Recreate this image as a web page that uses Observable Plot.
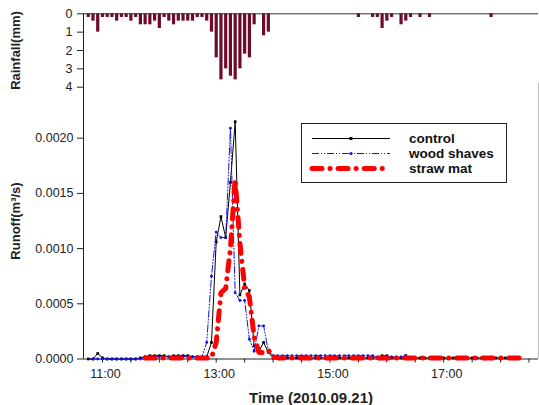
<!DOCTYPE html>
<html><head><meta charset="utf-8">
<script src="https://cdn.jsdelivr.net/npm/d3@7"></script>
<script src="https://cdn.jsdelivr.net/npm/@observablehq/plot@0.6"></script>
<style>
body{margin:0;background:#fff;}
#chart{position:relative;width:539px;height:405px;font-family:"Liberation Sans",Arial,sans-serif;}
#chart > svg{position:absolute;left:0;top:0;}
#legend{position:absolute;left:301px;top:123px;width:204px;height:58px;border:1px solid #222;background:#fff;}
#legend svg{position:absolute;left:0;top:0;}
</style></head><body><div id="chart"><div id="legend"></div></div>
<script>
// ---- data ----
const day = [2010, 8, 21];
const T = s => { const [h, m] = s.split(":").map(Number); return new Date(Date.UTC(day[0], day[1], day[2], h, m)); };
const seriesStart = "10:45";           // runoff samples every 5 minutes from 10:45 to 18:20
const stepMinutes = 5;

const control = [
  0, 0, 0.00005, 0.00001,
  0, 0, 0, 0, 0, 0, 0, 0.00001,
  0.00002, 0.00003, 0.00003, 0.00003, 0.00003, 0.00002, 0.00003, 0.00003, 0.00003, 0.00003, 0.00002, 0.00002, 0.00001, 0.00002,
  0.00015, 0.00106, 0.00129, 0.0011, 0.0016, 0.00215, 0.00058, 0.00068, 0.00062, 0.00012, 0.00007, 0.00015, 0.00006, 0.00001,
  0.00001, 0.00001, 0.00001, 0.00001, 0.00001, 0.00001, 0.00001, 0.00001, 0.00001, 0.00001, 0.00001,
  0.00001, 0.00001, 0.00001, 0.00001, 0.00001, 0.00001, 0.00001, 0.00001, 0.00001, 0.00001, 0.00001,
  0.00003, 0.00003, 0.00001, 0.00001, 0.00001, 0.00003,
  0.00001, 0.00001, 0.00001, 0.00001, 0.00001, 0.00001, 0.00001, 0.00001, 0.00001, 0.00001, 0.00001, 0.00001,
  0.00001, 0.00001, 0.00001, 0.00001, 0.00001, 0.00001, 0.00001, 0.00001, 0.00001, 0.00001, 0.00001, 0.00001
];
const woodShaves = [
  null,
  0, 0, 0, 0, 0, 0, 0, 0, 0, 0, 0,
  0.00002, 0.00002, 0.00002, 0.00002, 0.00002, 0.00002, 0.00002, 0.00002, 0.00002, 0.00002, 0.00002, 0.00002,
  0.00002, 0.00015, 0.00075, 0.00115, 0.0011, 0.0011, 0.00209, 0.0006, 0.00053, 0.00053, 0.00018, 0.00007, 0.0003, 0.0003, 0.00007, 0.00003,
  0.00003, 0.00003, 0.00003, 0.00003, 0.00003, 0.00003, 0.00003, 0.00003, 0.00003, 0.00003, 0.00003,
  0.00003, 0.00003, 0.00003, 0.00003, 0.00003, 0.00003, 0.00003, 0.00003, 0.00003, 0.00003,
  0.00002, 0.00002, 0.00002, 0.00002, 0.00002, 0.00002, 0.00003,
  null, null, null, null, null, null, null, null, null, null, null, null,
  null, null, null, null, null, null, null, null, null, null, null, null
];
const strawMat = [
  null, null, null, null, null, null, null, null, null, null, null, null,
  0.00001, 0.00001, 0.00001, 0.00001, 0.00001, 0.00001, 0.00001, 0.00001, 0.00001, 0.00001, 0.00001, 0.00001, 0.00001, 0.00001, 0.00001,
  0.00015, 0.0006, 0.00064, 0.001, 0.00163, 0.00105, 0.00065, 0.00056, 0.0002, 0.00006, 0.00006, 0.00008, 0.00002,
  0.00001, 0.00001, 0.00001, 0.00001, 0.00001, 0.00001, 0.00001, 0.00001, 0.00001, 0.00001, 0.00001, 0.00001, 0.00001,
  0.00001, 0.00001, 0.00001, 0.00001, 0.00001, 0.00001, 0.00001, 0.00001, 0.00001, 0.00001, 0.00001, 0.00001, 0.00001,
  0.00001, 0.00001, 0.00001, 0.00001, 0.00001, 0.00001, 0.00001, 0.00001, 0.00001, 0.00001, 0.00001, 0.00001, 0.00001,
  0.00001, 0.00001, 0.00001, 0.00001, 0.00001, 0.00001, 0.00001, 0.00001, 0.00001, 0.00001, 0.00001, 0.00001, 0.00001
];

const rainTimes = ["10:45","10:50","10:55","11:00","11:05","11:10","11:15","11:20","11:25","11:30","11:35","11:40",
  "11:45","11:50","11:55","12:00","12:05","12:10","12:15","12:20","12:25","12:30","12:35","12:40","12:45","12:50",
  "12:55","13:00","13:05","13:10","13:15","13:20","13:25","13:30","13:35","13:40","13:50","13:55",
  "15:30","15:45","15:50","15:55","16:00","16:05","16:15","16:20","16:25","16:35","16:45","17:50"];
const rainMm = [0.2,0.4,1.0,0.2,0.2,0.2,0.4,0.2,0.2,0.4,0.2,0.6,
  0.6,0.6,0.4,0.8,0.2,0.4,0.6,0.4,0.4,0.4,0.4,0.2,0.2,0.4,
  1.0,2.4,3.6,3.0,3.4,3.6,3.0,2.2,2.4,0.6,1.2,1.0,
  0.2,0.2,0.2,0.8,0.4,0.2,0.6,0.4,0.2,0.2,0.2,0.2];

const seriesNames = ["control", "wood shaves", "straw mat"];
const xDomain = ["10:40", "18:40"];
const xTickLabels = ["11:00", "13:00", "15:00", "17:00"];
const runoffTicks = [0, 0.0005, 0.0010, 0.0015, 0.0020];
const rainTicks = [0, 1, 2, 3, 4];
const xTitle = "Time (2010.09.21)";
const runoffTitle = "Runoff(m³/s)";
const rainTitle = "Rainfall(mm)";

// ---- build tables ----
const t0 = T(seriesStart);
const timeAt = i => new Date(t0.getTime() + i * stepMinutes * 60000);
const toRows = arr => arr.map((v, i) => ({t: timeAt(i), v})).filter(d => d.v != null);
const controlRows = toRows(control);
const woodRows = toRows(woodShaves);
const strawRows = toRows(strawMat);
const rainRows = rainTimes.map((s, i) => ({t: T(s), mm: rainMm[i]}));
const domain = xDomain.map(T);
const halfHours = d3.utcMinute.every(30).range(domain[0], domain[1]);
const labelTicks = xTickLabels.map(T);
const fmtHM = d3.utcFormat("%H:%M");

const font = "'Liberation Sans', Arial, sans-serif";
const chart = document.getElementById("chart");

const rainPlot = Plot.plot({
  width: 539, height: 100,
  marginLeft: 83, marginRight: 1, marginTop: 13.3, marginBottom: 13.3,
  style: {fontFamily: font, fontSize: "12.5px", background: "transparent", overflow: "visible", color: "#222"},
  x: {type: "utc", domain, axis: null},
  y: {domain: [0, 4], reverse: true},
  marks: [
    Plot.axisY({ticks: rainTicks, tickSize: 6, tickPadding: 5, tickFormat: d => String(d),
      label: rainTitle, labelAnchor: "center", labelOffset: 73, labelArrow: "none"}),
    Plot.ruleX(rainRows, {x: "t", y1: 0, y2: "mm", stroke: "#6e0a2c", strokeWidth: 3.2}),
    Plot.ruleY([0], {stroke: "#333"}),
    Plot.ruleX([domain[0]], {stroke: "#222"})
  ]
});

const runoffPlot = Plot.plot({
  width: 539, height: 405,
  marginLeft: 83, marginRight: 1, marginTop: 82.5, marginBottom: 46.5,
  style: {fontFamily: font, fontSize: "12.5px", background: "transparent", overflow: "visible", color: "#222"},
  x: {type: "utc", domain},
  y: {domain: [0, 0.0025]},
  marks: [
    Plot.axisX({ticks: halfHours, tickSize: 4, tickFormat: () => "", label: null}),
    Plot.axisX({ticks: labelTicks, tickSize: 0, tickPadding: 10, dx: 3, tickFormat: fmtHM,
      label: xTitle, labelAnchor: "center", labelOffset: 44, labelArrow: "none"}),
    Plot.axisY({ticks: runoffTicks, tickSize: 6, tickPadding: 4, tickFormat: d3.format(".4f"),
      label: runoffTitle, labelAnchor: "center", labelOffset: 73, labelArrow: "none"}),
    Plot.ruleY([0], {stroke: "#222"}),
    Plot.ruleX([domain[0]], {stroke: "#222"}),
    Plot.ruleX([domain[1]], {stroke: "#bbb"}),
    Plot.line(controlRows, {x: "t", y: "v", stroke: "black", strokeWidth: 1}),
    Plot.dot(controlRows, {x: "t", y: "v", symbol: "square", r: 1.5, fill: "black"}),
    Plot.line(woodRows, {x: "t", y: "v", stroke: "#1010ee", strokeWidth: 1, strokeDasharray: "7,2,1,2,1,2"}),
    Plot.dot(woodRows, {x: "t", y: "v", r: 1.4, fill: "#1010ee"}),
    Plot.line(strawRows, {x: "t", y: "v", stroke: "#ff0000", strokeWidth: 5, strokeDasharray: "10,8,0.1,8", strokeLinecap: "round"})
  ]
});

for (const svg of [rainPlot, runoffPlot]) {
  svg.querySelectorAll('[aria-label$="axis label"]').forEach(g => {
    g.setAttribute("font-weight", "bold");
    g.setAttribute("font-size", g.getAttribute("aria-label").startsWith("x") ? "15px" : "13px");
  });
}
chart.insertBefore(runoffPlot, chart.firstChild);
chart.insertBefore(rainPlot, chart.firstChild);

// ---- legend ----
const legendStyles = [
  {stroke: "black", width: 1, dash: null, marker: "square"},
  {stroke: "#1010ee", width: 1, dash: "7,2,1,2,1,2", marker: "circle"},
  {stroke: "#ff0000", width: 5, dash: "10,8,0.1,8", marker: null}
];
const NS = "http://www.w3.org/2000/svg";
const lsvg = document.createElementNS(NS, "svg");
lsvg.setAttribute("width", 204); lsvg.setAttribute("height", 58);
seriesNames.forEach((name, i) => {
  const y = 14.5 + i * 15;
  const st = legendStyles[i];
  const ln = document.createElementNS(NS, "line");
  ln.setAttribute("x1", 10); ln.setAttribute("x2", 88); ln.setAttribute("y1", y); ln.setAttribute("y2", y);
  ln.setAttribute("stroke", st.stroke); ln.setAttribute("stroke-width", st.width);
  if (st.dash) ln.setAttribute("stroke-dasharray", st.dash);
  if (st.width > 2) ln.setAttribute("stroke-linecap", "round");
  lsvg.appendChild(ln);
  if (st.marker === "square") {
    const r = document.createElementNS(NS, "rect");
    r.setAttribute("x", 47.5); r.setAttribute("y", y - 1.5); r.setAttribute("width", 3); r.setAttribute("height", 3);
    r.setAttribute("fill", st.stroke); lsvg.appendChild(r);
  } else if (st.marker === "circle") {
    const c = document.createElementNS(NS, "circle");
    c.setAttribute("cx", 49); c.setAttribute("cy", y); c.setAttribute("r", 1.6);
    c.setAttribute("fill", st.stroke); lsvg.appendChild(c);
  }
  const tx = document.createElementNS(NS, "text");
  tx.setAttribute("x", 107); tx.setAttribute("y", y + 4.5);
  tx.setAttribute("font-family", font); tx.setAttribute("font-size", "13.5px"); tx.setAttribute("font-weight", "bold");
  tx.setAttribute("fill", "#111");
  tx.textContent = name;
  lsvg.appendChild(tx);
});
document.getElementById("legend").appendChild(lsvg);
</script>
</body></html>
